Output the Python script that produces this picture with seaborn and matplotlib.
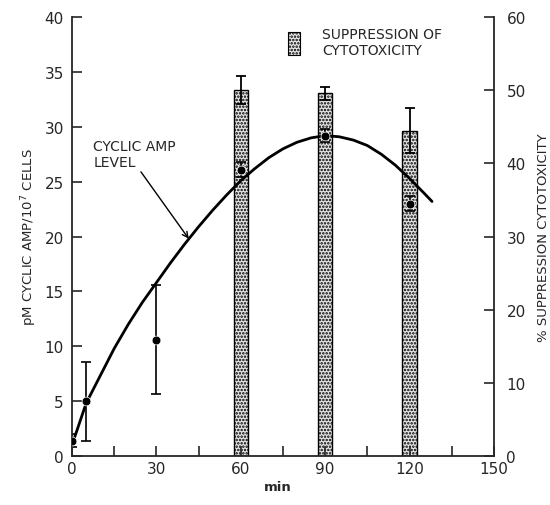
import matplotlib
matplotlib.use("Agg")
import matplotlib.pyplot as plt
import matplotlib.patches as mpatches
import seaborn as sns
import pandas as pd
import numpy as np

# cyclic AMP measured points (left axis)
amp_time = [0, 5, 30, 60, 90, 120]
amp_mean = [1.4, 5.0, 10.6, 26.1, 29.2, 23.0]
amp_err = [0.6, 3.6, 5.0, 0.7, 0.6, 0.7]

# fitted curve
curve_time = [0, 5, 10, 15, 20, 25, 30, 35, 40, 45, 50, 55, 60, 65, 70, 75,
              80, 85, 90, 95, 100, 105, 110, 115, 120, 125, 128]
curve_val = [1.0, 4.8, 7.3, 9.8, 12.0, 14.0, 15.8, 17.6, 19.3, 20.9, 22.4, 23.8,
             25.1, 26.2, 27.2, 28.0, 28.6, 29.0, 29.2, 29.1, 28.8, 28.3, 27.5,
             26.5, 25.3, 24.0, 23.2]

# suppression of cytotoxicity bars (right axis)
bar_time = [60, 90, 120]
bar_val = [50.0, 49.6, 44.5]
bar_err = [1.9, 0.9, 3.1]

sns.set_style("ticks")
plt.rcParams['font.family'] = ['DejaVu Sans']
plt.rcParams['hatch.linewidth'] = 1.2
plt.rcParams['hatch.color'] = '#444444'

fig = plt.figure(figsize=(5.5, 5.06), dpi=100)
ax = fig.add_axes([0.131, 0.097, 0.767, 0.867])
ax2 = ax.twinx()

# bars on right axis
bdf = pd.DataFrame({"t": bar_time, "v": bar_val})
sns.barplot(data=bdf, x="t", y="v", ax=ax2, native_scale=True, width=5/30,
            color="#dcdcdc", edgecolor="black", linewidth=1.0, errorbar=None)
for p in ax2.patches:
    p.set_hatch('.....')
    p.set_facecolor('#e6e6e6')
ax2.errorbar(bar_time, bar_val, yerr=bar_err, fmt='none', ecolor='black',
             elinewidth=1.3, capsize=3.5, capthick=1.3)

# curve + points on left axis
ax.set_zorder(ax2.get_zorder() + 1)
ax.patch.set_visible(False)
cdf = pd.DataFrame({"t": curve_time, "v": curve_val})
sns.lineplot(data=cdf, x="t", y="v", ax=ax, color="black", linewidth=2.0)
pdf = pd.DataFrame({"t": amp_time, "v": amp_mean})
sns.scatterplot(data=pdf, x="t", y="v", ax=ax, color="black", s=40, zorder=5)
ax.errorbar(amp_time, amp_mean, yerr=amp_err, fmt='none', ecolor='black',
            elinewidth=1.2, capsize=3.5, capthick=1.2)

ax.set_xlim(0, 150)
ax.set_ylim(0, 40)
ax2.set_ylim(0, 60)
ax.set_xticks(np.arange(0, 151, 15))
ax.set_xticklabels([str(v) if v % 30 == 0 else "" for v in range(0, 151, 15)])
ax.set_yticks(range(0, 41, 5))
ax2.set_yticks(range(0, 61, 10))
for a in (ax, ax2):
    a.tick_params(direction='in', length=7, width=1.2, labelsize=11)
    for s in a.spines.values():
        s.set_linewidth(1.3)
    a.spines['top'].set_visible(False)
ax.tick_params(axis='y', pad=6)
ax.tick_params(axis='x', pad=4)
ax2.tick_params(axis='y', pad=9)
ax2.spines['right'].set_visible(True)
ax.spines['right'].set_visible(False)
ax2.spines['left'].set_visible(False)
ax2.spines['bottom'].set_visible(False)

ax.set_xlabel("")
ax.set_ylabel("pM CYCLIC AMP/10$^7$ CELLS", fontsize=9.5, labelpad=4)
ax2.set_ylabel("% SUPPRESSION CYTOTOXICITY", fontsize=9.5, labelpad=8)
ax2.set_xlabel("")
fig.text(0.505, 0.024, "min", fontsize=9.5, fontweight='bold', ha='center', va='bottom')

# legend
hp = mpatches.Patch(facecolor='#e6e6e6', edgecolor='black', hatch='.....', linewidth=0.8)
ax.legend([hp], ["SUPPRESSION OF\nCYTOTOXICITY"], loc='upper left',
          bbox_to_anchor=(0.49, 1.0), frameon=False, fontsize=10,
          handlelength=0.8, handleheight=2.2, handletextpad=1.6, borderaxespad=0.3)

# annotation
ax.annotate("CYCLIC AMP\nLEVEL", xy=(41.5, 19.8), xytext=(7.5, 26.2),
            fontsize=10, ha='left', va='bottom', linespacing=1.1,
            arrowprops=dict(arrowstyle='->', color='black', lw=1.0,
                            shrinkA=0, shrinkB=0, relpos=(0.55, 0.0)))

fig.savefig("out.png", dpi=100)
